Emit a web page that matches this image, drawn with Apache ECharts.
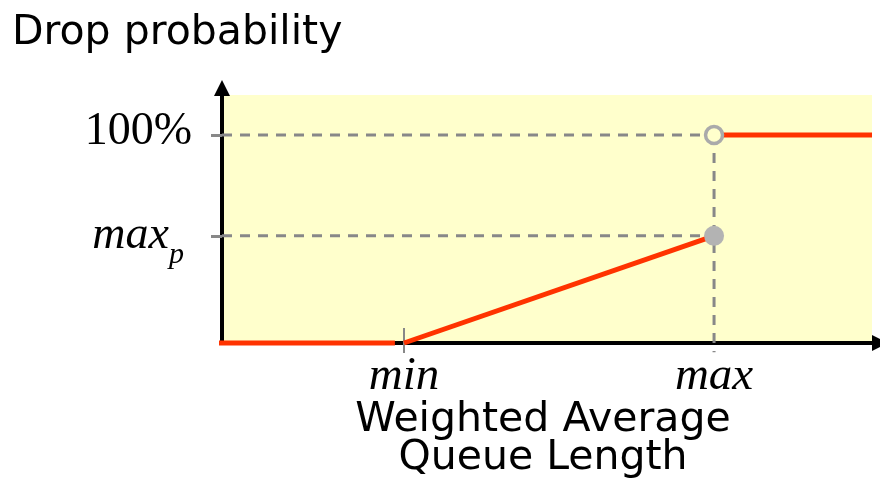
<!DOCTYPE html>
<html>
<head>
<meta charset="utf-8">
<script src="https://cdn.jsdelivr.net/npm/echarts@6/dist/echarts.min.js"></script>
<style>html,body{margin:0;padding:0;background:#fff}#c{width:880px;height:499px}</style>
</head>
<body>
<div id="c"></div>
<script>
// ---- data ----
const xTickValues = [28, 75.7];          // min, max queue thresholds
const xTickLabels = ['min', 'max'];
const yTickValues = [51.5, 100];         // max_p, 100%
const yTickLabels = ['maxp', '100%'];
const curveLow  = [[-0.5, 0], [26.6, 0]];
const curveRamp = [[28, 0], [75.7, 51.5]];
const curveHigh = [[75.7, 100], [100, 100]];
const guide100  = [[0, 100], [75.7, 100]];
const guideMaxP = [[0, 51.5], [75.7, 51.5]];
const guideVert = [[75.7, 100], [75.7, -4.4]];
const minTick   = [[28, -4.8], [28, 7.2]];
const openPoint = [[75.7, 100]];
const fillPoint = [[75.7, 51.5]];

const RED = '#FF3300', GRAY = '#888888';
const chart = echarts.init(document.getElementById('c'), null, {renderer: 'canvas'});
function seg(data, color, width, type, z) {
  return {type: 'line', data: data, symbol: 'none', clip: false, silent: true, z: z,
    lineStyle: {color: color, width: width, type: type, cap: 'butt'}, animation: false};
}
chart.setOption({
  animation: false,
  grid: {left: 222, right: 8, top: 95, bottom: 156, show: true, backgroundColor: '#FFFFCC', borderWidth: 0},
  xAxis: {
    type: 'value', min: 0, max: 100,
    axisLine: {show: true, lineStyle: {color: '#000', width: 4}, symbol: ['none', 'triangle'], symbolSize: [16, 16], symbolOffset: [0, 8]},
    axisTick: {show: false},
    splitLine: {show: false},
    axisLabel: {
      customValues: xTickValues, margin: 10,
      formatter: v => xTickLabels[xTickValues.indexOf(v)],
      fontFamily: 'Liberation Serif', fontStyle: 'italic', fontSize: 47, color: '#000'
    }
  },
  yAxis: {
    type: 'value', min: 0, max: 119.2,
    axisLine: {show: true, lineStyle: {color: '#000', width: 4}, symbol: ['none', 'triangle'], symbolSize: [16, 16], symbolOffset: [0, 7]},
    axisTick: {show: true, customValues: yTickValues, length: 11, lineStyle: {color: GRAY, width: 3}},
    splitLine: {show: false},
    axisLabel: {
      customValues: yTickValues, margin: 30,
      formatter: v => v === 100 ? '{n|100%}' : '{i|max}{s|p}',
      rich: {
        n: {fontFamily: 'Liberation Serif', fontSize: 46, lineHeight: 46, color: '#000', padding: [0, 0, 6, 0]},
        i: {fontFamily: 'Liberation Serif', fontStyle: 'italic', fontSize: 46, lineHeight: 46, color: '#000', verticalAlign: 'top'},
        s: {fontFamily: 'Liberation Serif', fontStyle: 'italic', fontSize: 30, lineHeight: 30, color: '#000', verticalAlign: 'top', padding: [27, 8, 0, 0]}
      }
    }
  },
  series: [
    seg(guide100, GRAY, 3, [10, 8], 2),
    seg(guideMaxP, GRAY, 3, [10, 8], 2),
    seg(guideVert, GRAY, 3, [10, 8], 2),
    seg(minTick, GRAY, 2, 'solid', 2),
    seg(curveLow, RED, 5, 'solid', 3),
    seg(curveRamp, RED, 5, 'solid', 3),
    seg(curveHigh, RED, 5, 'solid', 3),
    {type: 'scatter', data: openPoint, symbol: 'circle', symbolSize: 17, z: 4, silent: true,
      itemStyle: {color: '#FFFFCC', borderColor: '#AAAAAA', borderWidth: 3.5, opacity: 1}},
    {type: 'scatter', data: fillPoint, symbol: 'circle', symbolSize: 20, z: 4, silent: true,
      itemStyle: {color: '#B3B3B3', opacity: 1}}
  ],
  graphic: [
    {type: 'text', x: 12, y: 13, style: {text: 'Drop probability', font: '41px "DejaVu Sans"', fill: '#000', textVerticalAlign: 'top', lineHeight: 41}},
    {type: 'text', x: 543, y: 401, style: {text: 'Weighted Average\nQueue Length', font: '41px "DejaVu Sans"', fill: '#000', textAlign: 'center', textVerticalAlign: 'top', lineHeight: 38}}
  ]
});
</script>
</body>
</html>
